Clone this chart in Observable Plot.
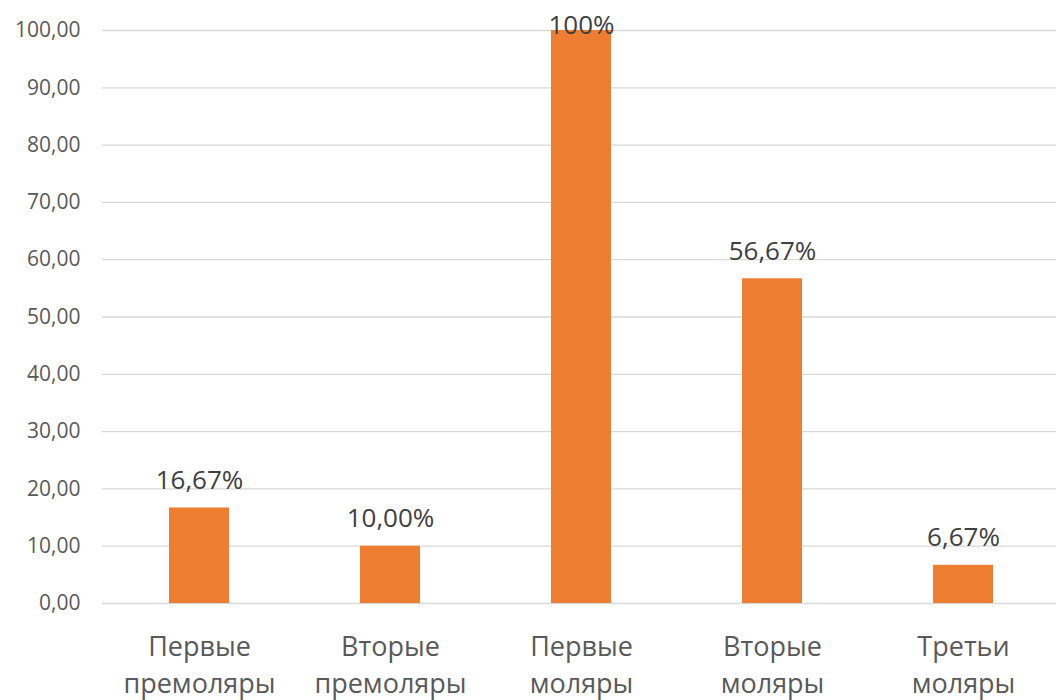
<!DOCTYPE html>
<html>
<head>
<meta charset="utf-8">
<script src="https://cdn.jsdelivr.net/npm/d3@7"></script>
<script src="https://cdn.jsdelivr.net/npm/@observablehq/plot@0.6"></script>
<style>
  html, body { margin: 0; padding: 0; background: #fff; }
  #chart svg { display: block; }
</style>
</head>
<body>
<div id="chart"></div>
<script>
// Share of teeth affected, by tooth group (%)
const categories = ["Первые\nпремоляры", "Вторые\nпремоляры", "Первые\nмоляры", "Вторые\nмоляры", "Третьи\nмоляры"];
const values = [16.67, 10.00, 100, 56.67, 6.67];
const yTicks = [0, 10, 20, 30, 40, 50, 60, 70, 80, 90, 100];

const data = categories.map((c, i) => ({category: c, value: values[i]}));

const fmtTick = v => v.toFixed(2).replace(".", ",");
const fmtLabel = v => (v === 100 ? "100" : v.toFixed(2).replace(".", ",")) + "%";

const font = "'Open Sans', 'Liberation Sans', sans-serif";
const yMax = d3.max(yTicks);

const chart = Plot.plot({
  width: 1056,
  height: 700,
  marginLeft: 102,
  marginRight: -4,
  marginTop: 30,
  marginBottom: 97,
  style: {fontFamily: font, background: "#fff"},
  x: {domain: categories, paddingInner: 0.687, paddingOuter: 0.34, label: null},
  y: {domain: [0, yMax], label: null},
  marks: [
    Plot.ruleY(yTicks, {stroke: "#d9d9d9", strokeWidth: 1.3}),
    Plot.axisY({
      ticks: yTicks,
      tickFormat: fmtTick,
      tickSize: 0,
      tickPadding: 22,
      fontSize: 21,
      fill: "#595959",
      label: null
    }),
    Plot.axisX({
      tickSize: 0,
      tickPadding: 26,
      fontSize: 27,
      lineHeight: 1.37,
      fill: "#595959",
      label: null
    }),
    Plot.barY(data, {x: "category", y: "value", fill: "#ED7D31"}),
    Plot.text(data.filter(d => d.value < yMax * 0.95), {
      x: "category", y: "value", text: d => fmtLabel(d.value),
      lineAnchor: "bottom", dy: -19, fontSize: 26, fill: "#404040"
    }),
    Plot.text(data.filter(d => d.value >= yMax * 0.95), {
      x: "category", y: "value", text: d => fmtLabel(d.value),
      lineAnchor: "bottom", dy: 3, fontSize: 26, fill: "#404040"
    })
  ]
});

document.getElementById("chart").appendChild(chart);
</script>
</body>
</html>
